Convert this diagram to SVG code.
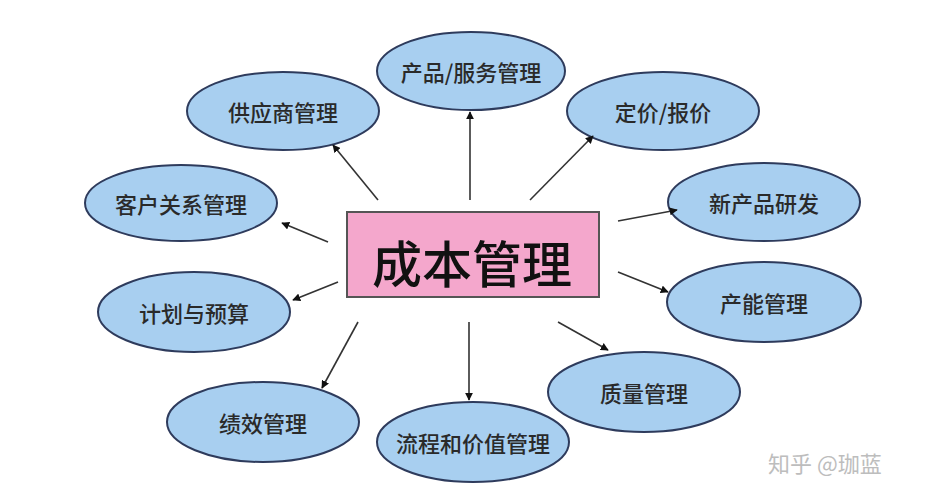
<svg xmlns="http://www.w3.org/2000/svg" width="938" height="500" viewBox="0 0 938 500">
<defs>
<style>
.node ellipse{fill:#a8cff0;stroke:#2e3b5c;stroke-width:2}
.node text{font-family:"Noto Sans CJK SC","Noto Sans",sans-serif;font-size:22px;font-weight:500;fill:#2a2a2a;text-anchor:middle;dominant-baseline:central}
.center rect{fill:#f4a7cc;stroke:#555;stroke-width:2}
.center text{font-family:"Noto Sans CJK SC","Noto Sans",sans-serif;font-size:50px;font-weight:500;fill:#111;text-anchor:middle;dominant-baseline:central}
#connectors line{stroke:#333;stroke-width:1.6;marker-end:url(#ah)}
.wm{font-family:"Noto Sans CJK SC","Noto Sans",sans-serif;font-size:22px;fill:#bdbdbd;dominant-baseline:central}
</style>
<marker id="ah" viewBox="0 0 10 10" refX="9" refY="5" markerWidth="8" markerHeight="8" orient="auto" markerUnits="userSpaceOnUse">
<path d="M0,0 L10,5 L0,10 z" fill="#111"/>
</marker>
</defs>
<rect width="938" height="500" fill="#ffffff"/>
<g id="n-center" class="center">
<rect x="347" y="212" width="252" height="85"/>
<text x="472" y="261">成本管理</text>
</g>
<g id="n-product" class="node"><ellipse cx="471" cy="71" rx="94" ry="39"/><text x="471" y="71">产品/服务管理</text></g>
<g id="n-supplier" class="node"><ellipse cx="283" cy="111" rx="96" ry="39"/><text x="283" y="111">供应商管理</text></g>
<g id="n-pricing" class="node"><ellipse cx="663" cy="111" rx="96" ry="39"/><text x="663" y="111">定价/报价</text></g>
<g id="n-crm" class="node"><ellipse cx="181" cy="203" rx="96" ry="38"/><text x="181" y="203">客户关系管理</text></g>
<g id="n-rd" class="node"><ellipse cx="764" cy="202" rx="96" ry="39"/><text x="764" y="202">新产品研发</text></g>
<g id="n-budget" class="node"><ellipse cx="194" cy="312" rx="96" ry="40"/><text x="194" y="312">计划与预算</text></g>
<g id="n-capacity" class="node"><ellipse cx="764" cy="302" rx="97" ry="40"/><text x="764" y="302">产能管理</text></g>
<g id="n-perf" class="node"><ellipse cx="263" cy="422" rx="96" ry="40"/><text x="263" y="422">绩效管理</text></g>
<g id="n-process" class="node"><ellipse cx="473" cy="442" rx="96" ry="40"/><text x="473" y="442">流程和价值管理</text></g>
<g id="n-quality" class="node"><ellipse cx="644" cy="392" rx="96" ry="40"/><text x="644" y="392">质量管理</text></g>
<g id="connectors">
<line x1="378" y1="200" x2="333" y2="145"/>
<line x1="470" y1="200" x2="470" y2="112"/>
<line x1="530" y1="200" x2="593" y2="136"/>
<line x1="328" y1="242" x2="282" y2="223"/>
<line x1="338" y1="282" x2="293" y2="300"/>
<line x1="618" y1="221" x2="677" y2="210"/>
<line x1="618" y1="272" x2="668" y2="292"/>
<line x1="358" y1="322" x2="322" y2="388"/>
<line x1="469" y1="322" x2="469" y2="400"/>
<line x1="558" y1="322" x2="608" y2="350"/>
</g>
<text class="wm" x="768" y="462">知乎 @珈蓝</text>
</svg>
